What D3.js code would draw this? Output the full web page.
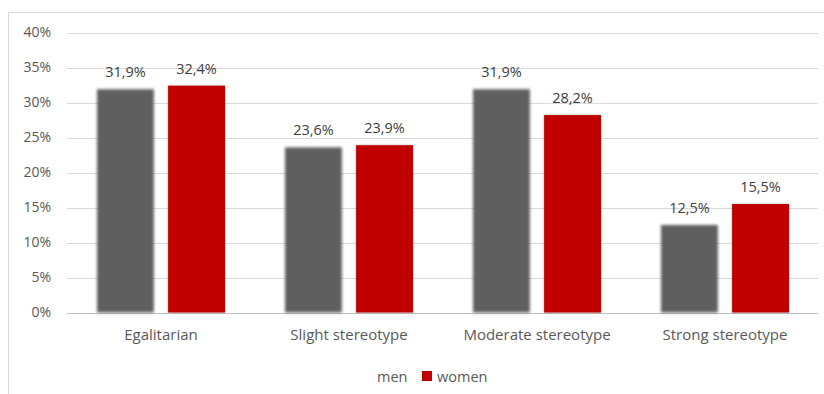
<!DOCTYPE html>
<html>
  <head>
    <meta charset="utf-8">
    <title>Gender stereotypes</title>
    <script src="https://cdn.jsdelivr.net/npm/d3@7"></script>
    <style>
    html,
    body {
        margin: 0;
        padding: 0;
        background: #fff;
    }
    #vis text {
        font-family: 'Open Sans', sans-serif;
        fill: #595959;
    }
    #vis .grid line {
        stroke: #d9d9d9;
        stroke-width: 1px;
    }
    #vis .label {
        font-size: 14.5px;
        fill: #404040;
        text-anchor: middle;
    }
    </style>
  </head>

  <body>
    <div id='vis'></div>
    <script>

      var categories = ['Egalitarian', 'Slight stereotype', 'Moderate stereotype', 'Strong stereotype'];
      var seriesNames = ['men', 'women'];
      var men = [31.9, 23.6, 31.9, 12.5];
      var women = [32.4, 23.9, 28.2, 15.5];
      var yTicks = [0, 5, 10, 15, 20, 25, 30, 35, 40];

      var width = 824;
      var height = 394;
      var colors = {men: '#5f5f5f', women: '#c00000'};

      var svg = d3.select('#vis').append('svg')
          .attr('width', width)
          .attr('height', height);

      // soft edge effect like the excel chart
      var defs = svg.append('defs');
      defs.append('filter').attr('id', 'soft')
          .attr('x', '-20%').attr('y', '-20%').attr('width', '140%').attr('height', '140%')
          .append('feGaussianBlur').attr('stdDeviation', 1.8);
      defs.append('filter').attr('id', 'shadow')
          .attr('x', '-20%').attr('y', '-20%').attr('width', '140%').attr('height', '140%')
          .append('feDropShadow').attr('dx', 0).attr('dy', 0).attr('stdDeviation', 0.8)
          .attr('flood-color', '#000').attr('flood-opacity', 0.35);

      // outer frame
      svg.append('rect')
          .attr('x', 8.5).attr('y', 12.5)
          .attr('width', width).attr('height', height)
          .attr('fill', 'none')
          .attr('stroke', '#d9d9d9');

      var x0 = d3.scaleBand().domain(categories).range([67, 819]).padding(0);
      var x1 = d3.scaleBand().domain(seriesNames).range([30, x0.bandwidth() - 30]).paddingInner(0.2);
      var y = d3.scaleLinear().domain([0, 40]).range([312.5, 32.5]);

      var rows = categories.map(function(c, i) {
        return {cat: c, values: [{key: 'men', v: men[i]}, {key: 'women', v: women[i]}]};
      });

      // gridlines
      svg.append('g').attr('class', 'grid')
          .selectAll('line')
          .data(yTicks)
          .enter()
          .append('line')
          .attr('x1', 67).attr('x2', 818)
          .attr('y1', function(d) { return Math.round(y(d)) + 0.5; })
          .attr('y2', function(d) { return Math.round(y(d)) + 0.5; })
          .style('stroke', function(d) { return d === 0 ? '#bfbfbf' : null; });

      // y axis labels
      var yAxis = d3.axisLeft(y).tickValues(yTicks).tickSize(0).tickPadding(0)
          .tickFormat(function(d) { return d + '%'; });
      var ya = svg.append('g').attr('transform', 'translate(51,0)').call(yAxis);
      ya.select('.domain').remove();
      ya.selectAll('text').style('font-size', '14px').style('fill', '#595959');

      var groups = svg.selectAll('.cat')
          .data(rows)
          .enter()
          .append('g')
          .attr('class', 'cat')
          .attr('transform', function(d) { return 'translate(' + x0(d.cat) + ',0)'; });

      groups.selectAll('rect')
          .data(function(d) { return d.values; })
          .enter()
          .append('rect')
          .attr('x', function(d) { return x1(d.key); })
          .attr('y', function(d) { return y(d.v); })
          .attr('width', x1.bandwidth())
          .attr('height', function(d) { return y(0) - y(d.v); })
          .attr('fill', function(d) { return colors[d.key]; })
          .attr('filter', function(d) { return d.key === 'men' ? 'url(#soft)' : 'url(#shadow)'; });

      groups.selectAll('.label')
          .data(function(d) { return d.values; })
          .enter()
          .append('text')
          .attr('class', 'label')
          .attr('x', function(d) { return x1(d.key) + x1.bandwidth() / 2; })
          .attr('y', function(d) { return y(d.v) - 12; })
          .text(function(d) { return d3.format('.1f')(d.v).replace('.', ',') + '%'; });

      // category axis
      var xAxis = d3.axisBottom(x0).tickSize(0).tickPadding(0);
      var xa = svg.append('g').attr('transform', 'translate(0,329)').call(xAxis);
      xa.select('.domain').remove();
      xa.selectAll('text').style('font-size', '15px').style('fill', '#595959');

      // legend
      var legend = svg.append('g').attr('transform', 'translate(0,382)');
      legend.append('text')
          .attr('x', 377).attr('y', 0)
          .style('font-size', '14.5px')
          .text(seriesNames[0]);
      legend.append('rect')
          .attr('x', 422).attr('y', -11)
          .attr('width', 10).attr('height', 10)
          .attr('fill', colors.women);
      legend.append('text')
          .attr('x', 437).attr('y', 0)
          .style('font-size', '14.5px')
          .text(seriesNames[1]);

    </script>
  </body>
</html>
